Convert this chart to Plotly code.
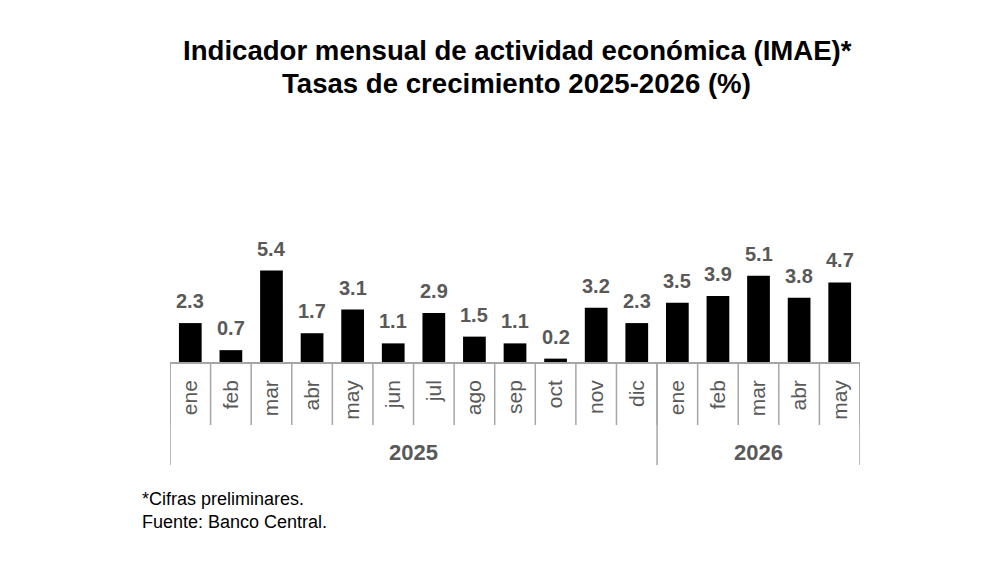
import plotly.graph_objects as go

months = ["ene", "feb", "mar", "abr", "may", "jun", "jul", "ago", "sep", "oct", "nov", "dic",
          "ene", "feb", "mar", "abr", "may"]
years = ["2025", "2026"]
year_counts = [12, 5]
values = [2.3, 0.7, 5.4, 1.7, 3.1, 1.1, 2.9, 1.5, 1.1, 0.2, 3.2, 2.3,
          3.5, 3.9, 5.1, 3.8, 4.7]
labels = [f"{v:.1f}" for v in values]

FONT = "Liberation Sans, Arial, sans-serif"
GRAY = "#595959"
LINE = "#a6a6a6"

# plot area in page pixels (page is offset by 8px)
X0, X1, Y0, Y1 = 170, 860, 252, 362
PW, PH = X1 - X0, Y1 - Y0


def px(X):
    return (X - X0) / PW


def py(Y):
    return (Y1 - Y) / PH


x = list(range(len(months)))

fig = go.Figure()
fig.add_trace(go.Bar(
    x=x, y=values, width=0.56,
    marker=dict(color="#000000", line=dict(width=0)),
    hoverinfo="skip",
))

shapes = []
for i in range(len(months) + 1):
    shapes.append(dict(type="line", xref="x", yref="paper",
                       x0=i - 0.5, x1=i - 0.5, y0=0, y1=py(425),
                       line=dict(color=LINE, width=1.5)))
bounds = [0]
for c in year_counts:
    bounds.append(bounds[-1] + c)
for b in bounds:
    shapes.append(dict(type="line", xref="x", yref="paper",
                       x0=b - 0.5, x1=b - 0.5, y0=0, y1=py(465),
                       line=dict(color=LINE, width=1.5)))

annotations = []
# data labels
for xi, v, lab in zip(x, values, labels):
    annotations.append(dict(x=xi, y=v, xref="x", yref="y", text=f"<b>{lab}</b>",
                            showarrow=False, xanchor="center", yanchor="middle", yshift=22,
                            font=dict(family=FONT, size=20, color=GRAY)))
# year labels
for k, yr in enumerate(years):
    center = (bounds[k] + bounds[k + 1] - 1) / 2
    annotations.append(dict(x=center, y=py(452), xref="x", yref="paper",
                            text=f"<b>{yr}</b>", showarrow=False,
                            font=dict(family=FONT, size=22, color=GRAY),
                            xanchor="center", yanchor="middle"))
# title lines
annotations.append(dict(x=px(517.5), y=py(50), xref="paper", yref="paper",
                        text="<b>Indicador mensual de actividad económica (IMAE)*</b>",
                        showarrow=False, xanchor="center", yanchor="middle",
                        font=dict(family=FONT, size=27.6, color="#000000")))
annotations.append(dict(x=px(516.5), y=py(83), xref="paper", yref="paper",
                        text="<b>Tasas de crecimiento 2025-2026 (%)</b>",
                        showarrow=False, xanchor="center", yanchor="middle",
                        font=dict(family=FONT, size=27.6, color="#000000")))
# footnote
annotations.append(dict(x=px(140), y=py(487), xref="paper", yref="paper",
                        text="*Cifras preliminares.<br>Fuente: Banco Central.",
                        showarrow=False, align="left", xanchor="left", yanchor="top",
                        font=dict(family=FONT, size=18, color="#000000")))

fig.update_layout(
    width=1000, height=574,
    margin=dict(l=X0 - 8, r=1000 - (X1 - 8), t=Y0 - 8, b=574 - (Y1 - 8)),
    paper_bgcolor="white", plot_bgcolor="white",
    showlegend=False,
    xaxis=dict(range=[-0.5, len(months) - 0.5], tickmode="array", tickvals=x, ticktext=months,
               tickangle=-90, showline=True, linecolor=LINE, linewidth=1.5,
               ticks="", showgrid=False, zeroline=False, ticklabelstandoff=8,
               tickfont=dict(family=FONT, size=21, color=GRAY), fixedrange=True),
    yaxis=dict(range=[0, 6.5], visible=False, fixedrange=True),
    shapes=shapes, annotations=annotations,
)

fig.write_html("out.html")
